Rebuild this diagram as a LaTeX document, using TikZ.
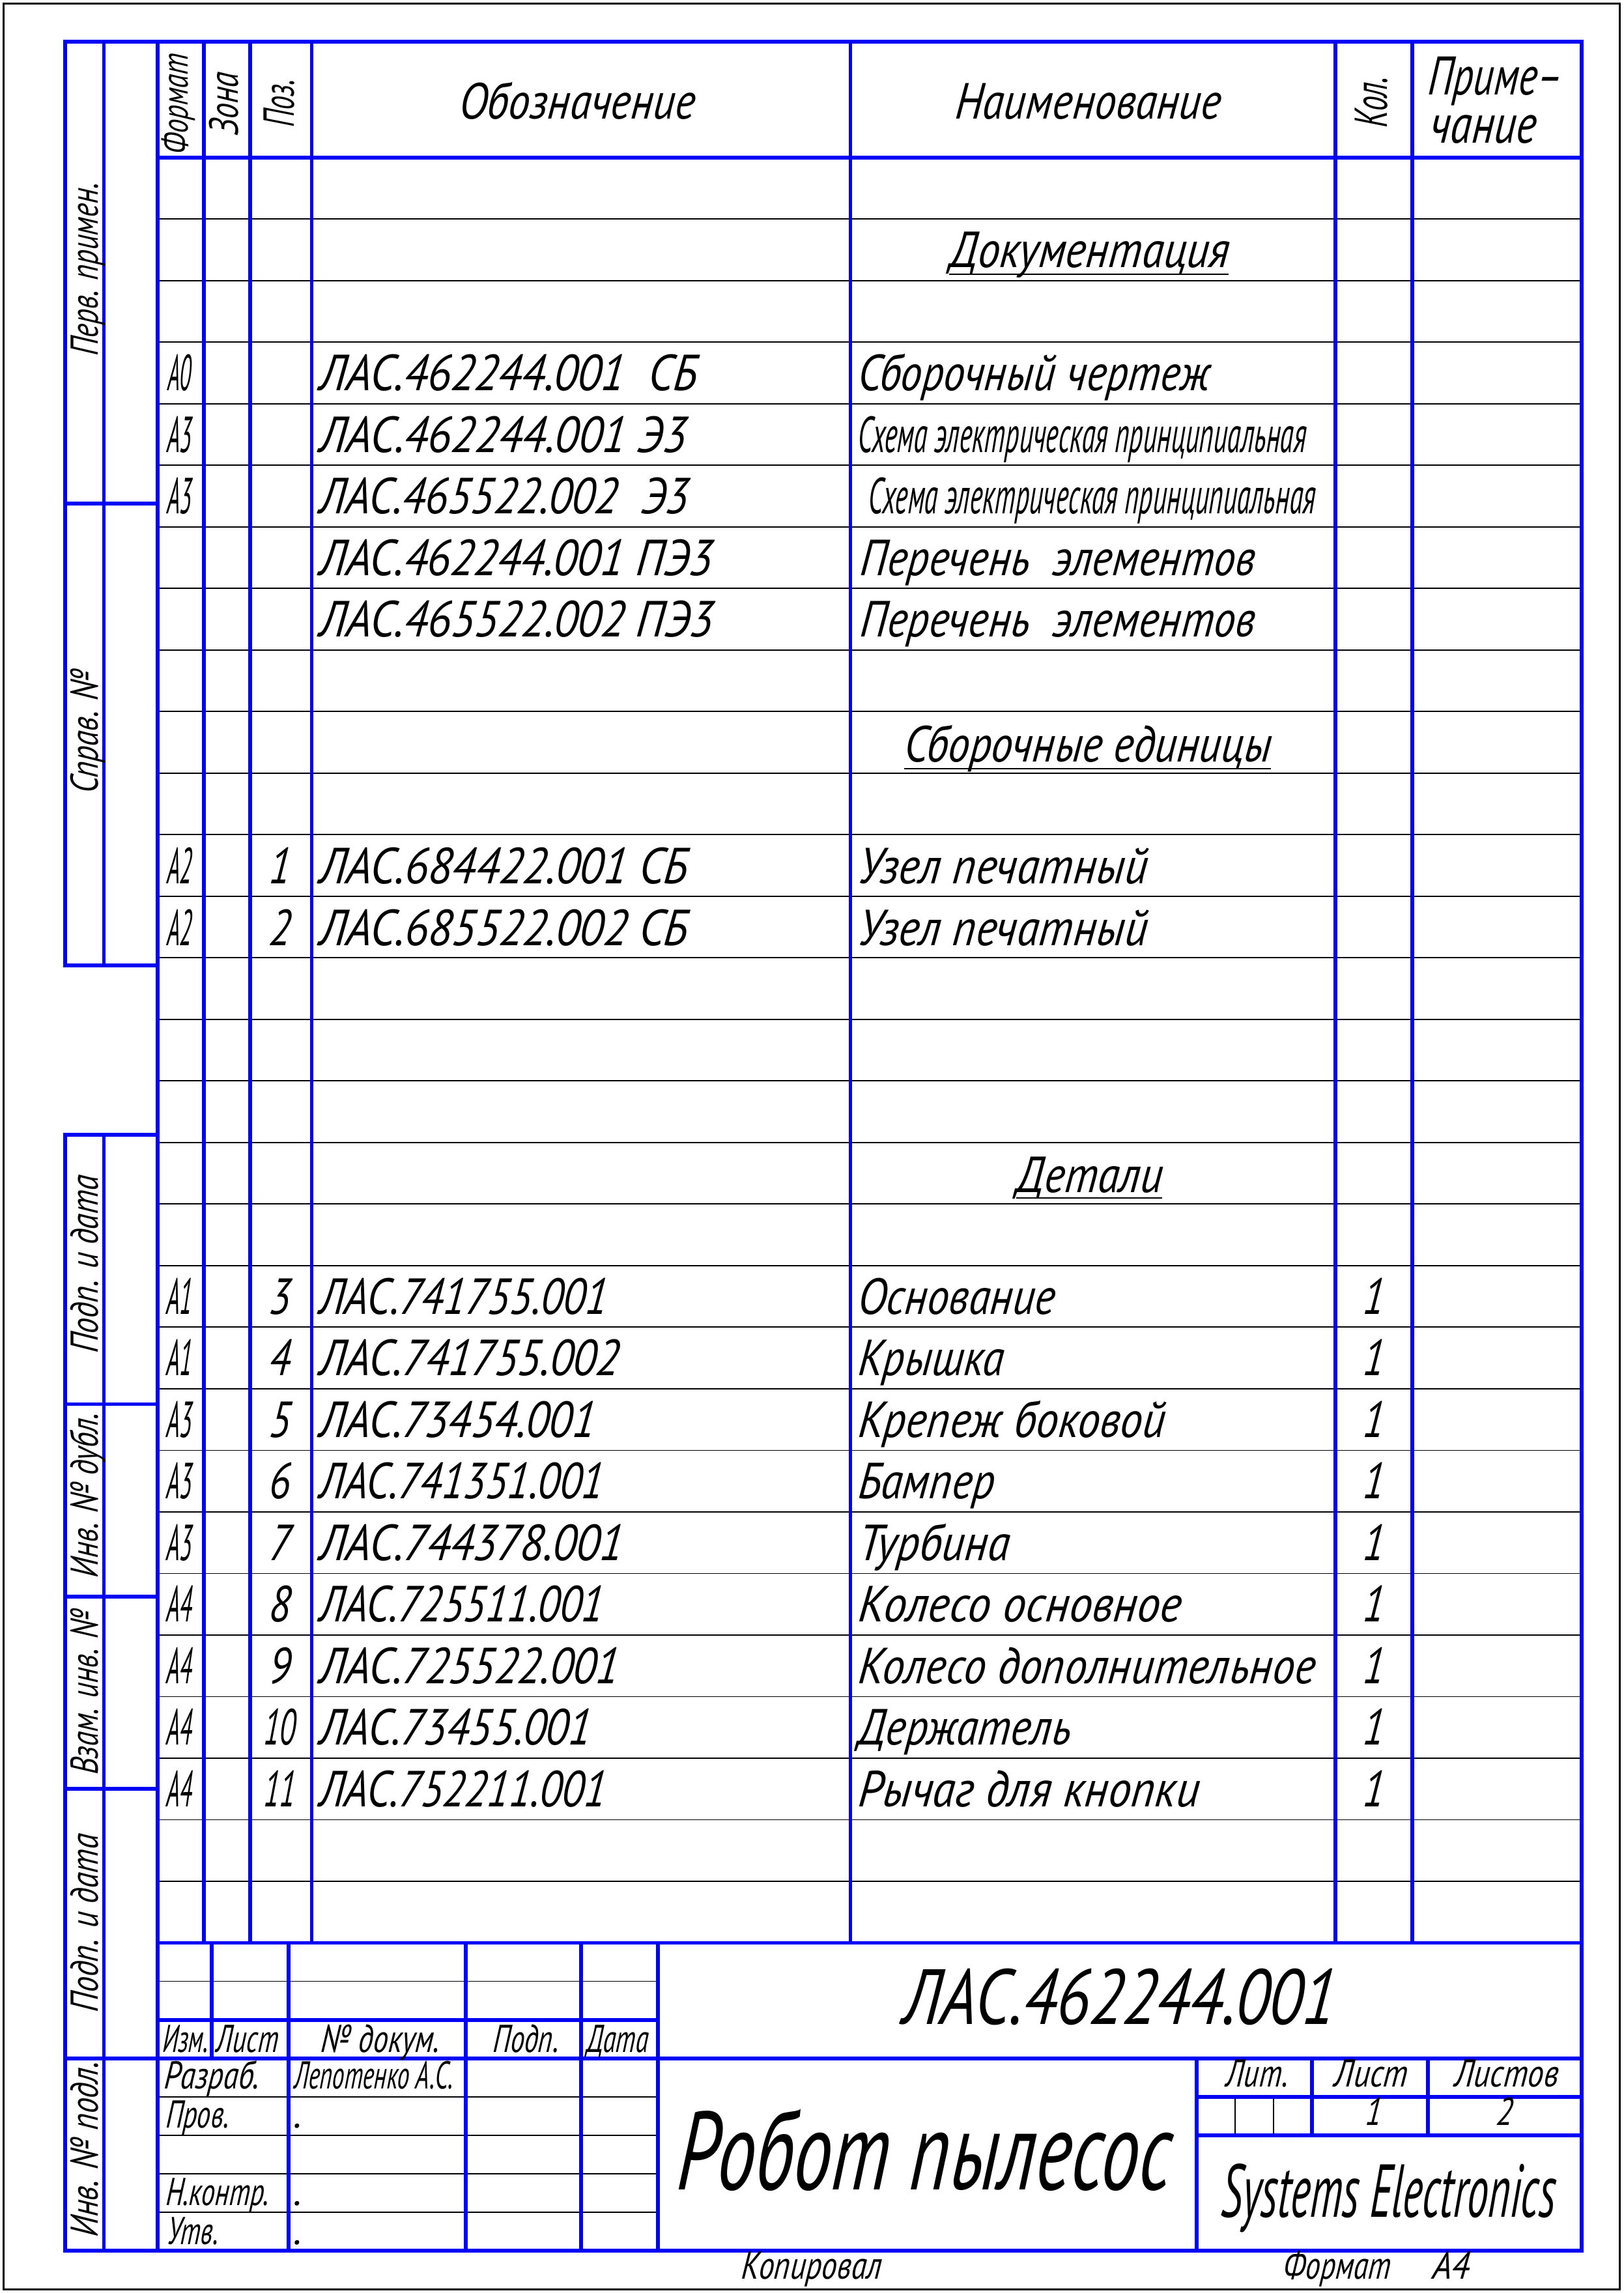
\documentclass[tikz,border=0pt]{standalone}
\usepackage{fontspec}
\setmainfont{PT Sans}[ItalicFeatures={FakeSlant=0.1}]
\usepackage{graphicx}
\definecolor{fb}{RGB}{0,0,245}
\newcommand\W[2]{\resizebox{#1}{\height}{#2}}
\newcommand\fsz[1]{\fontsize{#1}{#1}\selectfont\itshape}
\begin{document}
\begin{tikzpicture}[x=0.9968mm,y=-0.9968mm,
  bl/.style={draw=fb,line width=0.5mm,line cap=rect},
  tn/.style={draw=black,line width=0.15mm},
  tx/.style={inner sep=0pt,outer sep=0pt,font=\fsz{18.7}},
  tl/.style={inner sep=0pt,outer sep=0pt,font=\fsz{14.3}}]
\useasboundingbox (-0.502,-0.451) rectangle (210.52,297.5);
\fill[white] (-0.502,-0.451) rectangle (210.52,297.5);
\draw[line width=0.25mm] (0,0) rectangle (210,297);

% thin lines
\foreach \yy in {28,36,...,244} \draw[tn] (20,\yy) -- (205,\yy);
\foreach \yy in {257,272,277,282,287} \draw[tn] (20,\yy) -- (85,\yy);
\draw[tn] (160,272) -- (160,277);
\draw[tn] (165,272) -- (165,277);

% blue frame and grid
\draw[bl] (8,5) -- (205,5) -- (205,292) -- (8,292);
\draw[bl] (20,5) -- (20,292);
\draw[bl] (8,5) -- (8,125);
\draw[bl] (13,5) -- (13,125);
\draw[bl] (8,147) -- (8,292);
\draw[bl] (13,147) -- (13,292);
\foreach \yy in {65,125,147,182,207,232,267} \draw[bl] (8,\yy) -- (20,\yy);
\draw[bl] (20,20) -- (205,20);
\foreach \xx in {26,32,40,110,173,183} \draw[bl] (\xx,5) -- (\xx,252);
\draw[bl] (20,252) -- (205,252);
\draw[bl] (20,262) -- (85,262);
\draw[bl] (20,267) -- (205,267);
\draw[bl] (27,252) -- (27,267);
\foreach \xx in {37,60,75,85} \draw[bl] (\xx,252) -- (\xx,292);
\draw[bl] (155,267) -- (155,292);
\draw[bl] (155,272) -- (205,272);
\draw[bl] (155,277) -- (205,277);
\draw[bl] (170,267) -- (170,277);
\draw[bl] (185,267) -- (185,277);

% header
\node[tx,anchor=base] (hObo) at (74.4,15.0) {\W{30.5mm}{Обозначение}};
\node[tx,anchor=base] (hNai) at (140.8,15.0) {\W{34.4mm}{Наименование}};
\node[inner sep=0pt,font=\fsz{13.5},rotate=90] (hFmt) at (22.7,13.1) {\W{13mm}{Формат}};
\node[inner sep=0pt,font=\fsz{15},rotate=90] (hZon) at (28.6,13.1) {\W{8.1mm}{Зона}};
\node[inner sep=0pt,font=\fsz{16},rotate=90] (hPoz) at (35.8,13.0) {\W{6.2mm}{Поз.}};
\node[inner sep=0pt,font=\fsz{17},rotate=90] (hKol) at (177.7,12.9) {\W{6.6mm}{Кол.}};
\node[inner sep=0pt,font=\fsz{20},anchor=base west] (hPr1) at (184.9,11.9) {\W{17.4mm}{Приме–}};
\node[inner sep=0pt,font=\fsz{20},anchor=base west] (hPr2) at (185.2,18.1) {\W{13.7mm}{чание}};

% left strip
\node[tl,rotate=90,anchor=base] (sPerv) at (12.2,34.6) {\W{22.4mm}{Перв. примен.}};
\node[tl,rotate=90,anchor=base] (sSprav) at (12.2,94.7) {\W{16mm}{Справ. №}};
\node[tl,rotate=90,anchor=base] (sPd1) at (12.2,163.9) {\W{23mm}{Подп. и дата}};
\node[tl,rotate=90,anchor=base] (sInd) at (12.2,193.9) {\W{21.3mm}{Инв. № дубл.}};
\node[tl,rotate=90,anchor=base] (sVz) at (12.2,219.5) {\W{21.3mm}{Взам. инв. №}};
\node[tl,rotate=90,anchor=base] (sPd2) at (12.2,249.5) {\W{23mm}{Подп. и дата}};
\node[tl,rotate=90,anchor=base] (sInp) at (12.2,278.9) {\W{22.7mm}{Инв. № подл.}};

% sections
\node[tx,anchor=base] (sDoc) at (141.0,34.3) {\W{36.2mm}{Документация}};
\draw[tn] ([yshift=-0.9mm]sDoc.base west) -- ([yshift=-0.9mm]sDoc.base east);
\node[tx,anchor=base] (sSbe) at (140.8,98.5) {\W{47.5mm}{Сборочные единицы}};
\draw[tn] ([yshift=-0.9mm]sSbe.base west) -- ([yshift=-0.9mm]sSbe.base east);
\node[tx,anchor=base] (sDet) at (141.0,154.5) {\W{18.9mm}{Детали}};
\draw[tn] ([yshift=-0.7mm]sDet.base west) -- ([yshift=-0.7mm]sDet.base east);

% documentation rows
\node[tx,anchor=base] (f4) at (22.8,50.3) {\W{3.0mm}{А0}};
\node[tx,anchor=base west] (d4) at (40.9,50.3) {\W{48.9mm}{ЛАС.462244.001~~СБ}};
\node[tx,anchor=base west] (n4) at (110.9,50.3) {\W{45.6mm}{Сборочный чертеж}};
\node[tx,anchor=base] (f5) at (22.8,58.3) {\W{3.2mm}{А3}};
\node[tx,anchor=base west] (d5) at (40.9,58.3) {\W{47.5mm}{ЛАС.462244.001 Э3}};
\node[tx,anchor=base west] (n5) at (110.9,58.3) {\W{58.1mm}{Схема электрическая принципиальная}};
\node[tx,anchor=base] (f6) at (22.8,66.3) {\W{3.2mm}{А3}};
\node[tx,anchor=base west] (d6) at (40.9,66.3) {\W{47.8mm}{ЛАС.465522.002~~Э3}};
\node[tx,anchor=base west] (n6) at (112.3,66.3) {\W{57.9mm}{Схема электрическая принципиальная}};
\node[tx,anchor=base west] (d7) at (40.9,74.3) {\W{50.9mm}{ЛАС.462244.001 ПЭ3}};
\node[tx,anchor=base west] (n7) at (111.2,74.3) {\W{51.1mm}{Перечень~~элементов}};
\node[tx,anchor=base west] (d8) at (40.9,82.3) {\W{51.0mm}{ЛАС.465522.002 ПЭ3}};
\node[tx,anchor=base west] (n8) at (111.2,82.3) {\W{51.1mm}{Перечень~~элементов}};

% assembly units
\node[tx,anchor=base] (f12) at (22.8,114.4) {\W{3.2mm}{А2}};
\node[tx,anchor=base] (p12) at (35.8,114.4) {\scalebox{0.8}[1]{1}};
\node[tx,anchor=base west] (d12) at (40.9,114.4) {\W{47.7mm}{ЛАС.684422.001 СБ}};
\node[tx,anchor=base west] (n12) at (110.9,114.4) {\W{37.5mm}{Узел печатный}};
\node[tx,anchor=base] (f13) at (22.8,122.4) {\W{3.2mm}{А2}};
\node[tx,anchor=base] (p13) at (35.8,122.4) {\scalebox{0.8}[1]{2}};
\node[tx,anchor=base west] (d13) at (40.9,122.4) {\W{47.7mm}{ЛАС.685522.002 СБ}};
\node[tx,anchor=base west] (n13) at (110.9,122.4) {\W{37.5mm}{Узел печатный}};

% parts
\foreach \rowi/\fmt/\pos/\psc/\des/\desw/\nam/\namw in {
 19/А1/3/0.8/ЛАС.741755.001/37.3/Основание/25.5,
 20/А1/4/0.8/ЛАС.741755.002/38.8/Крышка/18.9,
 21/А3/5/0.8/ЛАС.73454.001/35.7/Крепеж боковой/39.8,
 22/А3/6/0.8/ЛАС.741351.001/36.8/Бампер/17.7,
 23/А3/7/0.8/ЛАС.744378.001/39.3/Турбина/19.6,
 24/А4/8/0.8/ЛАС.725511.001/36.8/Колесо основное/41.9,
 25/А4/9/0.8/ЛАС.725522.001/38.8/Колесо дополнительное/59.2,
 26/А4/10/0.6/ЛАС.73455.001/35.2/Держатель/27.6,
 27/А4/11/0.6/ЛАС.752211.001/37.1/Рычаг для кнопки/44.2}{
 \pgfmathsetmacro\yb{20+8*\rowi-1.7}
 \node[tx,anchor=base] (f\rowi) at (22.8,\yb) {\W{3.3mm}{\fmt}};
 \node[tx,anchor=base] (p\rowi) at (35.8,\yb) {\scalebox{\psc}[1]{\pos}};
 \node[tx,anchor=base west] (d\rowi) at (40.9,\yb) {\W{\desw mm}{\des}};
 \node[tx,anchor=base west] (n\rowi) at (110.9,\yb) {\W{\namw mm}{\nam}};
 \node[tx,anchor=base] (k\rowi) at (177.9,\yb) {\scalebox{0.8}[1]{1}};
}

% title block
\node[tl,anchor=base] (tIzm) at (23.55,266.2) {\W{5.9mm}{Изм.}};
\node[tl,anchor=base] (tList) at (31.6,266.2) {\W{8mm}{Лист}};
\node[tl,anchor=base] (tNdoc) at (48.9,266.2) {\W{15.3mm}{№ докум.}};
\node[tl,anchor=base] (tPodp) at (67.8,266.2) {\W{8.5mm}{Подп.}};
\node[tl,anchor=base] (tData) at (79.7,266.2) {\W{8mm}{Дата}};
\node[tl,anchor=base west] (tRazr) at (20.8,271.0) {\W{12.3mm}{Разраб.}};
\node[tl,anchor=base west] (tLep) at (37.7,271.0) {\W{20.6mm}{Лепотенко А.С.}};
\node[tl,anchor=base west] (tProv) at (21.0,276.0) {\W{8.2mm}{Пров.}};
\node[tl,anchor=base west] (tNk) at (21.0,286.1) {\W{13.4mm}{Н.контр.}};
\node[tl,anchor=base west] (tUtv) at (21.2,291.2) {\W{6.6mm}{Утв.}};
\node[tl,anchor=base west] (dot1) at (37.6,276.0) {.};
\node[tl,anchor=base west] (dot2) at (37.6,286.1) {.};
\node[tl,anchor=base west] (dot3) at (37.6,291.2) {.};
\node[inner sep=0pt,font=\fsz{28.8},anchor=base] (tDes) at (144.8,262.6) {\W{56mm}{ЛАС.462244.001}};
\node[inner sep=0pt,font=\fsz{41},anchor=base] (tName) at (119.4,284.1) {\W{64mm}{Робот пылесос}};
\node[tl,anchor=base] (tLit) at (162.8,270.7) {\W{8mm}{Лит.}};
\node[tl,anchor=base] (tL2) at (177.6,270.7) {\W{9.5mm}{Лист}};
\node[tl,anchor=base] (tLs) at (195.2,270.7) {\W{13.4mm}{Листов}};
\node[tl,anchor=base] (tOne) at (177.9,275.7) {\scalebox{0.8}[1]{1}};
\node[tl,anchor=base] (tTwo) at (194.9,275.7) {\scalebox{0.8}[1]{2}};
\node[inner sep=0pt,font=\fsz{27.6},anchor=base] (tOrg) at (179.8,287.6) {\W{43.3mm}{Systems Electronics}};
\node[tl,anchor=base] (tKop) at (104.9,295.7) {\W{18.1mm}{Копировал}};
\node[tl,anchor=base] (tFmt) at (173.2,295.7) {\W{13.9mm}{Формат}};
\node[tl,anchor=base] (tA4) at (188.0,295.7) {\W{4.8mm}{А4}};
\end{tikzpicture}
\end{document}
